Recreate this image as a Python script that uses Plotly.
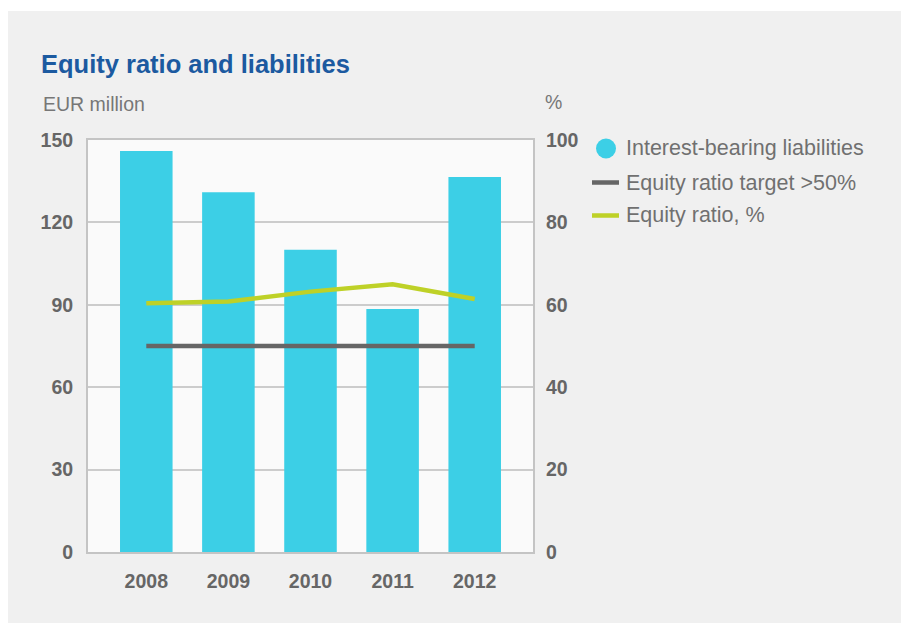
import plotly.graph_objects as go

years = ["2008", "2009", "2010", "2011", "2012"]
liabilities = [146, 131, 110, 88.5, 136.5]
equity_target = [50, 50, 50, 50, 50]
equity_ratio = [60.4, 60.8, 63.2, 65.0, 61.4]

left_ticks = [0, 30, 60, 90, 120, 150]
right_ticks = [0, 20, 40, 60, 80, 100]

W, H = 901, 623
L, R, T, B = 88, 533, 140, 552  # plot area in page px


def px(x):
    return (x - L) / (R - L)


def py(y):
    return (B - y) / (B - T)


CYAN = "#3ccfe6"
GRAY = "#666666"
GREEN = "#bed127"
PANEL = "#f0f0f0"
FONT = "Liberation Sans, Arial, sans-serif"

fig = go.Figure()
fig.add_trace(go.Bar(x=years, y=liabilities, marker=dict(color=CYAN, line=dict(width=0)),
                     width=0.64, name="Interest-bearing liabilities", showlegend=False))
fig.add_trace(go.Scatter(x=years, y=equity_target, yaxis="y2", mode="lines",
                         line=dict(color=GRAY, width=4.5), name="Equity ratio target >50%", showlegend=False))
fig.add_trace(go.Scatter(x=years, y=equity_ratio, yaxis="y2", mode="lines",
                         line=dict(color=GREEN, width=4.5), name="Equity ratio, %", showlegend=False))

shapes = [
    # white outer strips (top and left)
    dict(type="rect", xref="paper", yref="paper", x0=px(-10), x1=px(920), y0=py(11), y1=py(-10),
         fillcolor="#ffffff", line=dict(width=0), layer="below"),
    dict(type="rect", xref="paper", yref="paper", x0=px(-10), x1=px(8), y0=py(640), y1=py(-10),
         fillcolor="#ffffff", line=dict(width=0), layer="below"),
    dict(type="rect", xref="paper", yref="paper", x0=0, x1=1, y0=0, y1=1,
         fillcolor="#fafafa", line=dict(width=0), layer="below"),
    # legend symbols
    dict(type="circle", xref="paper", yref="paper", x0=px(596), x1=px(616), y0=py(158.5), y1=py(138.5),
         fillcolor=CYAN, line=dict(width=0)),
    dict(type="line", xref="paper", yref="paper", x0=px(592), x1=px(619), y0=py(182.5), y1=py(182.5),
         line=dict(color=GRAY, width=4.5)),
    dict(type="line", xref="paper", yref="paper", x0=px(592), x1=px(619), y0=py(215.5), y1=py(215.5),
         line=dict(color=GREEN, width=4.5)),
]

annotations = [
    dict(text="<b>Equity ratio and liabilities</b>", x=px(39), y=py(64), xref="paper", yref="paper",
         xanchor="left", yanchor="middle", showarrow=False, font=dict(family=FONT, size=25.5, color="#1c5aa0")),
    dict(text="EUR million", x=px(41), y=py(104), xref="paper", yref="paper",
         xanchor="left", yanchor="middle", showarrow=False, font=dict(family=FONT, size=19.5, color="#777777")),
    dict(text="%", x=px(543), y=py(102), xref="paper", yref="paper",
         xanchor="left", yanchor="middle", showarrow=False, font=dict(family=FONT, size=19.5, color="#777777")),
]
legend_items = [("Interest-bearing liabilities", 148), ("Equity ratio target >50%", 183), ("Equity ratio, %", 215)]
for txt, yy in legend_items:
    annotations.append(dict(text=txt, x=px(624), y=py(yy), xref="paper", yref="paper",
                            xanchor="left", yanchor="middle", showarrow=False,
                            font=dict(family=FONT, size=21.5, color="#707070")))

tickfont = dict(family=FONT, size=19.5, color="#666666", weight="bold")

fig.update_layout(
    width=W, height=H,
    margin=dict(l=L, r=W - R, t=T, b=H - B, pad=0),
    paper_bgcolor=PANEL,
    plot_bgcolor="rgba(0,0,0,0)",
    showlegend=False,
    bargap=0.36,
    shapes=shapes,
    annotations=annotations,
    xaxis=dict(type="category", range=[-0.71, 4.71], showgrid=False, showline=True, mirror=True,
               linecolor="#c4c4c4", linewidth=2, ticks="", tickfont=tickfont, ticklabelstandoff=11,
               fixedrange=True),
    yaxis=dict(range=[0, 150], tickvals=left_ticks, showgrid=True, gridcolor="#cccccc", gridwidth=1.5,
               showline=True, linecolor="#c4c4c4", linewidth=2, ticks="", tickfont=tickfont,
               ticklabelstandoff=9, zeroline=False),
    yaxis2=dict(range=[0, 100], tickvals=right_ticks, overlaying="y", side="right", showgrid=False,
                showline=True, linecolor="#c4c4c4", linewidth=2, ticks="", tickfont=tickfont,
                ticklabelstandoff=7, zeroline=False),
)

fig.write_html("out.html", config={"displayModeBar": False},
               post_script="document.body.style.margin='0';document.body.style.overflow='hidden';"
                           "document.body.style.background='#f0f0f0';")
